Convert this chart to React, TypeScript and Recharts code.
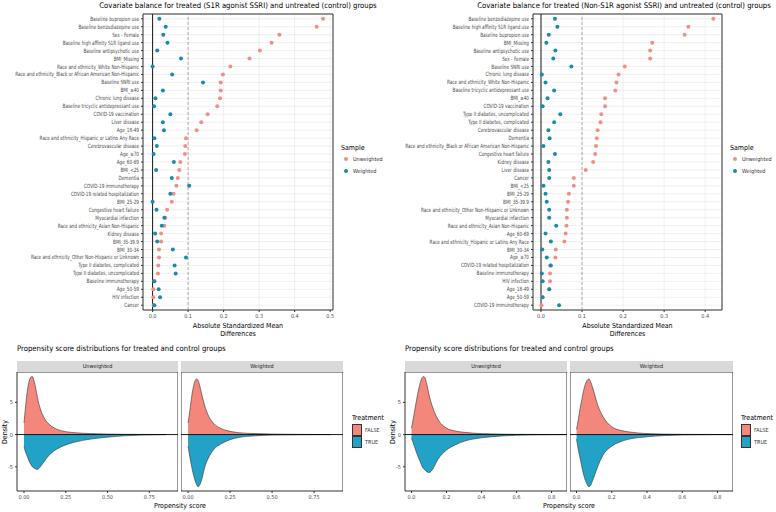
import React from 'react';
import {
  ScatterChart,
  Scatter,
  AreaChart,
  Area,
  XAxis,
  YAxis,
  CartesianGrid,
  ReferenceLine,
  ReferenceArea,
} from 'recharts';

const FONT = '"DejaVu Sans Condensed", "Liberation Sans Narrow", "DejaVu Sans", sans-serif';
const UNW_COLOR = '#EF8F86';
const W_COLOR = '#1B8BA5';
const FALSE_FILL = '#F4877C';
const TRUE_FILL = '#23A2C8';

// covariate balance, S1R agonist SSRI
const S1R_ROWS = [
  'Baseline bupropion use',
  'Baseline benzodiazepine use',
  'Sex - Female',
  'Baseline high affinity S1R ligand use',
  'Baseline antipsychotic use',
  'BMI_Missing',
  'Race and ethnicity_White Non-Hispanic',
  'Race and ethnicity_Black or African American Non-Hispanic',
  'Baseline SNRI use',
  'BMI_≥40',
  'Chronic lung disease',
  'Baseline tricyclic antidepressant use',
  'COVID-19 vaccination',
  'Liver disease',
  'Age_18-49',
  'Race and ethnicity_Hispanic or Latino Any Race',
  'Cerebrovascular disease',
  'Age_≥70',
  'Age_60-69',
  'BMI_<25',
  'Dementia',
  'COVID-19 immunotherapy',
  'COVID-19 related hospitalization',
  'BMI_25-29',
  'Congestive heart failure',
  'Myocardial infarction',
  'Race and ethnicity_Asian Non-Hispanic',
  'Kidney disease',
  'BMI_35-39.9',
  'BMI_30-34',
  'Race and ethnicity_Other Non-Hispanic or Unknown',
  'Type II diabetes, complicated',
  'Type II diabetes, uncomplicated',
  'Baseline immunotherapy',
  'Age_50-59',
  'HIV infection',
  'Cancer',
];
const S1R_UNWEIGHTED = [
  0.48, 0.462, 0.357, 0.335, 0.302, 0.273, 0.219, 0.198, 0.192, 0.192, 0.19, 0.182, 0.155,
  0.137, 0.124, 0.094, 0.092, 0.091, 0.078, 0.075, 0.071, 0.067, 0.059, 0.054, 0.041, 0.036,
  0.033, 0.024, 0.024, 0.018, 0.018, 0.016, 0.015, 0.005, 0.002, 0.002, 0.003,
];
const S1R_WEIGHTED = [
  0.019, 0.037, 0.03, 0.042, 0.013, 0.08, 0.0, 0.055, 0.142, 0.029, 0.008, 0.004, 0.05,
  0.029, 0.032, 0.005, 0.012, 0.003, 0.06, 0.01, 0.054, 0.103, 0.05, 0.0, 0.011, 0.033,
  0.026, 0.007, 0.013, 0.057, 0.094, 0.062, 0.065, 0.005, 0.017, 0.021, 0.005,
];
const S1R_TICKS = [0, 0.1, 0.2, 0.3, 0.4, 0.5];

// covariate balance, non-S1R agonist SSRI
const NON_ROWS = [
  'Baseline benzodiazepine use',
  'Baseline high affinity S1R ligand use',
  'Baseline bupropion use',
  'BMI_Missing',
  'Baseline antipsychotic use',
  'Sex - Female',
  'Baseline SNRI use',
  'Chronic lung disease',
  'Race and ethnicity_White Non-Hispanic',
  'Baseline tricyclic antidepressant use',
  'BMI_≥40',
  'COVID-19 vaccination',
  'Type II diabetes, uncomplicated',
  'Type II diabetes, complicated',
  'Cerebrovascular disease',
  'Dementia',
  'Race and ethnicity_Black or African American Non-Hispanic',
  'Congestive heart failure',
  'Kidney disease',
  'Liver disease',
  'Cancer',
  'BMI_<25',
  'BMI_25-29',
  'BMI_35-39.9',
  'Race and ethnicity_Other Non-Hispanic or Unknown',
  'Myocardial infarction',
  'Race and ethnicity_Asian Non-Hispanic',
  'Age_60-69',
  'Race and ethnicity_Hispanic or Latino Any Race',
  'BMI_30-34',
  'Age_≥70',
  'COVID-19 related hospitalization',
  'Baseline immunotherapy',
  'HIV infection',
  'Age_18-49',
  'Age_50-59',
  'COVID-19 immunotherapy',
];
const NON_UNWEIGHTED = [
  0.42, 0.359, 0.35, 0.271, 0.266, 0.266, 0.204, 0.189, 0.184, 0.181, 0.156, 0.156, 0.147,
  0.145, 0.138, 0.136, 0.134, 0.132, 0.127, 0.109, 0.08, 0.08, 0.068, 0.066, 0.063, 0.063,
  0.062, 0.06, 0.057, 0.036, 0.035, 0.022, 0.022, 0.022, 0.02, 0.003, 0.001,
];
const NON_WEIGHTED = [
  0.034, 0.04, 0.019, 0.013, 0.035, 0.03, 0.074, 0.002, 0.011, 0.032, 0.016, 0.004, 0.047,
  0.032, 0.018, 0.021, 0.006, 0.034, 0.018, 0.02, 0.02, 0.006, 0.011, 0.014, 0.02, 0.02,
  0.037, 0.011, 0.024, 0.003, 0.014, 0.024, 0.002, 0.004, 0.02, 0.004, 0.044,
];
const NON_TICKS = [0, 0.1, 0.2, 0.3, 0.4];

// propensity score densities (TRUE mirrored below zero)
const PS_S1R_X = [0, 0.01, 0.02, 0.03, 0.04, 0.05, 0.06, 0.07, 0.08, 0.1, 0.12, 0.15, 0.2, 0.25, 0.3, 0.4, 0.5, 0.6, 0.7, 0.8, 0.85];
const PS_S1R_UNW_FALSE = [1.8, 4.5, 6.8, 8.2, 8.9, 9.0, 8.3, 7.2, 5.8, 3.8, 2.6, 1.6, 0.8, 0.45, 0.3, 0.15, 0.08, 0.04, 0.02, 0.01, 0];
const PS_S1R_UNW_TRUE = [-1.8, -2.8, -3.4, -4.1, -4.6, -5.0, -5.2, -5.35, -5.4, -4.9, -4.2, -3.2, -2.2, -1.6, -1.2, -0.7, -0.4, -0.2, -0.08, -0.03, 0];
const PS_S1R_W_FALSE = [1.8, 3.6, 5.6, 7.2, 8.2, 8.6, 8.4, 7.5, 6.4, 4.4, 3.0, 1.8, 0.9, 0.5, 0.3, 0.15, 0.08, 0.04, 0.02, 0.01, 0];
const PS_S1R_W_TRUE = [-1.8, -3.4, -4.8, -6.0, -7.0, -7.7, -8.1, -7.8, -7.1, -5.0, -3.7, -2.4, -1.4, -0.8, -0.45, -0.2, -0.08, -0.04, -0.02, -0.01, 0];
const PS_S1R_TICKS = [0, 0.25, 0.5, 0.75];

const PS_NON_X = [0, 0.01, 0.02, 0.03, 0.04, 0.05, 0.06, 0.07, 0.08, 0.09, 0.1, 0.12, 0.15, 0.2, 0.25, 0.3, 0.4, 0.5, 0.6, 0.7, 0.8, 0.88];
const PS_NON_UNW_FALSE = [1.0, 2.4, 4.0, 5.5, 6.9, 8.0, 8.8, 9.0, 8.6, 7.5, 6.2, 4.3, 2.4, 1.0, 0.55, 0.35, 0.15, 0.07, 0.03, 0.02, 0.01, 0];
const PS_NON_UNW_TRUE = [-0.6, -1.3, -2.1, -2.9, -3.6, -4.2, -4.9, -5.3, -5.6, -5.8, -5.9, -5.4, -3.9, -2.4, -1.6, -1.05, -0.5, -0.25, -0.1, -0.05, -0.02, 0];
const PS_NON_W_FALSE = [0.8, 2.3, 4.0, 5.4, 6.8, 7.8, 8.4, 8.6, 8.2, 7.4, 6.5, 4.6, 2.8, 1.2, 0.65, 0.4, 0.15, 0.07, 0.03, 0.02, 0.01, 0];
const PS_NON_W_TRUE = [-0.7, -2.3, -3.6, -5.0, -6.2, -7.1, -7.7, -8.1, -7.9, -7.2, -6.5, -5.0, -3.2, -1.8, -1.1, -0.7, -0.35, -0.15, -0.06, -0.03, -0.01, 0];
const PS_NON_TICKS = [0, 0.2, 0.4, 0.6, 0.8];

const DENSITY_TICKS = [-5, 0, 5];
const DENSITY_DOMAIN = [-8.75, 9.7];

const tickStyle = { fontSize: 5.5, fill: '#4d4d4d', fontFamily: FONT };

function dot(color: string) {
  return (p: any) => <circle cx={p.cx} cy={p.cy} r={2} fill={color} />;
}

function BalancePlot({ rows, unweighted, weighted, ticks, domain, left, width, rightMargin }: any) {
  const unw = rows.map((name: string, i: number) => ({ idx: i, v: unweighted[i], name }));
  const w = rows.map((name: string, i: number) => ({ idx: i, v: weighted[i], name }));
  const yTicks = rows.map((_: string, i: number) => i);
  const yDomain = [-0.6, rows.length - 0.4];
  // one-line, condensed row labels (the default tick wraps long text)
  const rowTick = ({ x, y, payload }: any) => (
    <text
      transform={`translate(${x},${y}) scale(0.8,1)`}
      dy={2}
      textAnchor="end"
      fontSize={5.8}
      fill="#4d4d4d"
      fontFamily={FONT}
    >
      {rows[payload.value]}
    </text>
  );
  return (
    <div style={{ position: 'absolute', left, top: 0 }}>
      <ScatterChart width={width} height={345} margin={{ top: 14, right: rightMargin, bottom: 0, left: 0 }}>
        <CartesianGrid stroke="#e6e6e6" strokeWidth={0.6} />
        <XAxis
          type="number"
          dataKey="v"
          domain={domain}
          ticks={ticks}
          allowDataOverflow
          height={35}
          tick={tickStyle}
          tickFormatter={(t: number) => t.toFixed(1)}
          tickSize={2}
          tickLine={{ stroke: '#333' }}
          axisLine={false}
          label={({ viewBox }: any) => {
            const cx = viewBox.x + viewBox.width / 2;
            return (
              <text x={cx} y={viewBox.y + 18} textAnchor="middle" fontSize={7} fontFamily={FONT} fill="#000">
                <tspan x={cx}>Absolute Standardized Mean</tspan>
                <tspan x={cx} dy={8}>Differences</tspan>
              </text>
            );
          }}
        />
        <YAxis
          type="number"
          dataKey="idx"
          domain={yDomain}
          ticks={yTicks}
          interval={0}
          reversed
          width={143}
          tick={rowTick}
          tickSize={2}
          tickLine={{ stroke: '#333' }}
          axisLine={false}
        />
        <ReferenceLine x={0} stroke="#1a1a1a" strokeWidth={1} />
        <ReferenceLine x={0.1} stroke="#999" strokeDasharray="3 2" strokeWidth={0.8} />
        <ReferenceArea
          x1={domain[0]}
          x2={domain[1]}
          y1={yDomain[0]}
          y2={yDomain[1]}
          fill="none"
          stroke="#333"
          strokeWidth={1}
          ifOverflow="visible"
        />
        <Scatter data={unw} shape={dot(UNW_COLOR)} isAnimationActive={false} />
        <Scatter data={w} shape={dot(W_COLOR)} isAnimationActive={false} />
      </ScatterChart>
    </div>
  );
}

function SampleLegend({ left }: { left: number }) {
  return (
    <div style={{ position: 'absolute', left, top: 143, fontFamily: FONT }}>
      <div style={{ fontSize: 7, color: '#000', lineHeight: '10px' }}>Sample</div>
      {[
        ['Unweighted', UNW_COLOR],
        ['Weighted', W_COLOR],
      ].map(([label, color]) => (
        <div key={label} style={{ display: 'flex', alignItems: 'center', height: 12, marginLeft: 3 }}>
          <div style={{ width: 4, height: 4, borderRadius: 2, background: color, marginRight: 5 }} />
          <span style={{ fontSize: 5.5, color: '#333' }}>{label}</span>
        </div>
      ))}
    </div>
  );
}

function Facet({ xs, falseVals, trueVals, ticks, domain, fmt, left, panelWidth, showY, strip }: any) {
  const data = xs.map((x: number, i: number) => ({ x, f: falseVals[i], t: trueVals[i] }));
  const yw = showY ? 17 : 0;
  return (
    <>
      <div
        style={{
          position: 'absolute',
          left: left,
          top: 361,
          width: panelWidth,
          height: 11,
          background: '#d9d9d9',
          fontFamily: FONT,
          fontSize: 5.5,
          color: '#1a1a1a',
          textAlign: 'center',
          lineHeight: '11px',
        }}
      >
        {strip}
      </div>
      <div style={{ position: 'absolute', left: left - yw, top: 372 }}>
        <AreaChart width={panelWidth + yw} height={131} data={data} margin={{ top: 0, right: 0, bottom: 0, left: 0 }}>
          <XAxis
            type="number"
            dataKey="x"
            domain={domain}
            ticks={ticks}
            allowDataOverflow
            height={12}
            tick={tickStyle}
            tickFormatter={fmt}
            tickSize={2}
            tickLine={{ stroke: '#333' }}
            axisLine={false}
          />
          <YAxis
            domain={DENSITY_DOMAIN}
            ticks={DENSITY_TICKS}
            allowDataOverflow
            width={yw}
            hide={!showY}
            tick={tickStyle}
            tickSize={2}
            tickLine={{ stroke: '#333' }}
            axisLine={false}
          />
          <Area
            type="monotone"
            dataKey="f"
            baseValue={0}
            fill={FALSE_FILL}
            fillOpacity={1}
            stroke="#333"
            strokeWidth={0.6}
            dot={false}
            activeDot={false}
            isAnimationActive={false}
          />
          <Area
            type="monotone"
            dataKey="t"
            baseValue={0}
            fill={TRUE_FILL}
            fillOpacity={1}
            stroke="#333"
            strokeWidth={0.6}
            dot={false}
            activeDot={false}
            isAnimationActive={false}
          />
          <ReferenceLine y={0} stroke="#000" strokeWidth={0.9} />
          <ReferenceArea
            x1={domain[0]}
            x2={domain[1]}
            y1={DENSITY_DOMAIN[0]}
            y2={DENSITY_DOMAIN[1]}
            fill="none"
            stroke="#333"
            strokeWidth={1}
            ifOverflow="visible"
          />
        </AreaChart>
      </div>
    </>
  );
}

function TreatmentLegend({ left }: { left: number }) {
  return (
    <div style={{ position: 'absolute', left, top: 412, fontFamily: FONT }}>
      <div style={{ fontSize: 7, color: '#000', lineHeight: '12px' }}>Treatment</div>
      {[
        ['FALSE', FALSE_FILL],
        ['TRUE', TRUE_FILL],
      ].map(([label, color]) => (
        <div key={label} style={{ display: 'flex', alignItems: 'center', height: 12 }}>
          <div style={{ width: 8, height: 10, background: color, border: '0.6px solid #333', marginRight: 3 }} />
          <span style={{ fontSize: 5.5, color: '#333' }}>{label}</span>
        </div>
      ))}
    </div>
  );
}

function Text({ left, top, children, size = 7, anchor = 'left', rotate = false }: any) {
  return (
    <div
      style={{
        position: 'absolute',
        left,
        top,
        fontFamily: FONT,
        fontSize: size,
        color: '#000',
        whiteSpace: 'nowrap',
        transform: `${anchor === 'center' ? 'translateX(-50%)' : ''} ${rotate ? 'translate(-50%, -50%) rotate(-90deg)' : ''}`,
      }}
    >
      {children}
    </div>
  );
}

export default function App() {
  return (
    <div style={{ position: 'absolute', left: 0, top: 0, width: 776, height: 512, background: '#fff', overflow: 'hidden' }}>
      <Text left={238} top={1} size={7.7} anchor="center">
        Covariate balance for treated (S1R agonist SSRI) and untreated (control) groups
      </Text>
      <Text left={624} top={1} size={7.7} anchor="center">
        Covariate balance for treated (Non-S1R agonist SSRI) and untreated (control) groups
      </Text>
      <BalancePlot
        rows={S1R_ROWS}
        unweighted={S1R_UNWEIGHTED}
        weighted={S1R_WEIGHTED}
        ticks={S1R_TICKS}
        domain={[-0.027, 0.508]}
        left={0}
        width={390}
        rightMargin={57}
      />
      <BalancePlot
        rows={NON_ROWS}
        unweighted={NON_UNWEIGHTED}
        weighted={NON_WEIGHTED}
        ticks={NON_TICKS}
        domain={[-0.0195, 0.441]}
        left={390}
        width={386}
        rightMargin={54}
      />
      <SampleLegend left={341} />
      <SampleLegend left={730} />

      <Text left={17} top={344} size={7.7}>
        Propensity score distributions for treated and control groups
      </Text>
      <Text left={405} top={344} size={7.7}>
        Propensity score distributions for treated and control groups
      </Text>

      <Facet xs={PS_S1R_X} falseVals={PS_S1R_UNW_FALSE} trueVals={PS_S1R_UNW_TRUE} ticks={PS_S1R_TICKS}
        domain={[-0.042, 0.922]} fmt={(t: number) => t.toFixed(2)} left={17} panelWidth={161} showY strip="Unweighted" />
      <Facet xs={PS_S1R_X} falseVals={PS_S1R_W_FALSE} trueVals={PS_S1R_W_TRUE} ticks={PS_S1R_TICKS}
        domain={[-0.042, 0.922]} fmt={(t: number) => t.toFixed(2)} left={181} panelWidth={162} showY={false} strip="Weighted" />
      <Facet xs={PS_NON_X} falseVals={PS_NON_UNW_FALSE} trueVals={PS_NON_UNW_TRUE} ticks={PS_NON_TICKS}
        domain={[-0.037, 0.888]} fmt={(t: number) => t.toFixed(1)} left={405} panelWidth={162} showY strip="Unweighted" />
      <Facet xs={PS_NON_X} falseVals={PS_NON_W_FALSE} trueVals={PS_NON_W_TRUE} ticks={PS_NON_TICKS}
        domain={[-0.037, 0.888]} fmt={(t: number) => t.toFixed(1)} left={570} panelWidth={163} showY={false} strip="Weighted" />

      <TreatmentLegend left={352} />
      <TreatmentLegend left={741} />

      <Text left={5} top={432} size={7} rotate>Density</Text>
      <Text left={393} top={432} size={7} rotate>Density</Text>
      <Text left={180} top={502} size={7} anchor="center">Propensity score</Text>
      <Text left={569} top={502} size={7} anchor="center">Propensity score</Text>
    </div>
  );
}
